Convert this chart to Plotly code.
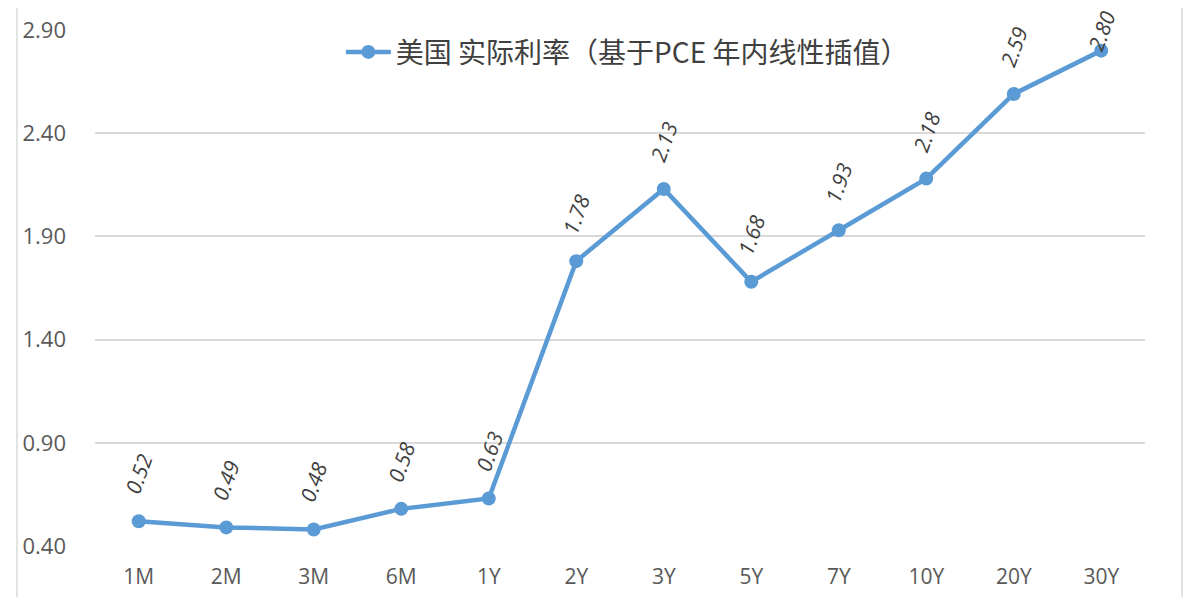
import plotly.graph_objects as go

# tenors and US real rates (PCE-based, linear intra-year interpolation)
tenors = ["1M", "2M", "3M", "6M", "1Y", "2Y", "3Y", "5Y", "7Y", "10Y", "20Y", "30Y"]
real_rates = [0.52, 0.49, 0.48, 0.58, 0.63, 1.78, 2.13, 1.68, 1.93, 2.18, 2.59, 2.80]
y_ticks = [0.40, 0.90, 1.40, 1.90, 2.40, 2.90]
series_name = "美国 实际利率（基于PCE 年内线性插值）"

LINE_COLOR = "#5B9BD5"
GRID = "#D9D9D9"
TEXT = "#595959"

fig = go.Figure()
fig.add_trace(go.Scatter(
    x=tenors,
    y=real_rates,
    mode="lines+markers",
    name=series_name,
    line=dict(color=LINE_COLOR, width=4.5),
    marker=dict(color=LINE_COLOR, size=14),
))

# rotated, italic data labels above each point (top one pushed down to stay on canvas)
for t, v in zip(tenors, real_rates):
    fig.add_annotation(
        x=t, y=v, text=f"{v:.2f}", showarrow=False,
        textangle=-70, yshift=47 if v < 2.7 else 20,
        font=dict(family="Open Sans", size=21, color="#404040", style="italic"),
    )

# thin outer frame lines, like the original chart border
for xp in [-0.0743, 1.0352]:
    fig.add_shape(type="line", xref="paper", yref="paper",
                  x0=xp, x1=xp, y0=-0.12, y1=1.07,
                  line=dict(color=GRID, width=1.5))

# page body has an 8px margin, so the figure is sized/offset to compensate
fig.update_layout(
    width=1187, height=589,
    margin=dict(l=87, r=50, t=22, b=51),
    paper_bgcolor="white",
    plot_bgcolor="white",
    font=dict(family="Open Sans", color=TEXT),
    showlegend=True,
    legend=dict(
        x=0.507, y=0.957, xanchor="center", yanchor="middle",
        orientation="h", bgcolor="rgba(0,0,0,0)",
        font=dict(family="Noto Sans CJK SC", size=28, color="#404040"),
        itemwidth=45,
    ),
)
fig.update_xaxes(
    range=[-0.5, 11.5],
    showgrid=False, zeroline=False, showline=False, automargin=False,
    tickfont=dict(size=21, color=TEXT),
    ticks="", ticklabelstandoff=16,
)
fig.update_yaxes(
    range=[0.40, 2.90], tickvals=y_ticks, tickformat=".2f",
    showgrid=True, gridcolor=GRID, gridwidth=1.5,
    zeroline=False, showline=False, automargin=False,
    tickfont=dict(size=22, color=TEXT),
    ticks="", ticklabelstandoff=28,
)

fig.write_html("out.html")
